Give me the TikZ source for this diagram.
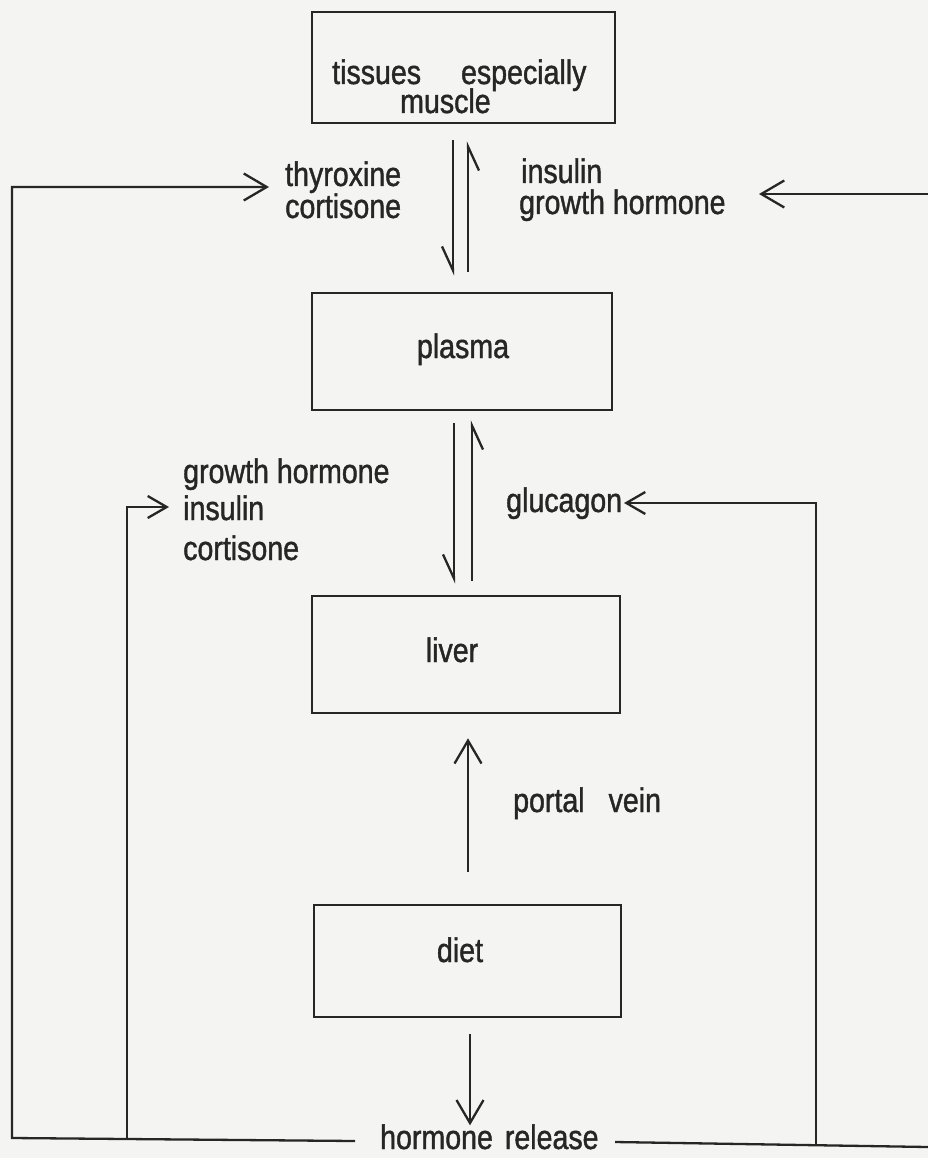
\documentclass[tikz,border=0pt]{standalone}
\usepackage{fontspec}
\setmainfont{Liberation Sans}[FakeStretch=0.84,FakeBold=1.2]
\usetikzlibrary{arrows.meta,calc}
\definecolor{paper}{RGB}{244,244,242}
\definecolor{inkc}{RGB}{38,38,38}
\begin{document}
\begin{tikzpicture}[x=1pt,y=-1pt,
  box/.style={draw=inkc, line width=2.6pt, inner sep=0pt},
  lbl/.style={font=\fontsize{34}{36}\selectfont, text=inkc, inner sep=0pt, anchor=base west},
  lblc/.style={lbl, anchor=base},
  wire/.style={draw=inkc, line width=2.3pt},
  harp/.style={wire, -{Straight Barb[harpoon,swap,length=24pt,width=22pt]}},
  openarr/.style={wire, -{Straight Barb[length=23pt,width=27pt]}},
  smallarr/.style={wire, -{Straight Barb[length=19pt,width=22pt]}}]
\useasboundingbox (0,0) rectangle (928,1158);
\fill[paper] (0,0) rectangle (928,1158);

% boxes
\node[box, minimum width=303pt, minimum height=111pt] (tissues) at (463.5,67.5) {};
\node[box, minimum width=300pt, minimum height=117pt] (plasma) at (462,351.5) {};
\node[box, minimum width=308pt, minimum height=117pt] (liver) at (466,654.5) {};
\node[box, minimum width=307pt, minimum height=112pt] (diet) at (467.5,961) {};

% box texts
\node[lbl] (tisA) at (332,84) {tissues\hspace{40pt}especially};
\node[lbl] (tisB) at (400,113) {muscle};
\node[lblc] (plasmaT) at (463,358) {plasma};
\node[lblc] (liverT) at (452,662) {liver};
\node[lblc] (dietT) at (460,962) {diet};

% labels
\node[lbl] (thy) at (285,186) {thyroxine};
\node[lbl] (cortA) at (285,218) {cortisone};
\node[lbl] (insA) at (521,183) {insulin};
\node[lbl] (ghA) at (519,214) {growth hormone};
\node[lbl] (ghB) at (183,483) {growth hormone};
\node[lbl] (insB) at (183,520) {insulin};
\node[lbl] (cortB) at (183,560) {cortisone};
\node[lbl] (glu) at (506,512) {glucagon};
\node[lbl] (portal) at (513,812) {portal\hspace{24pt}vein};
\node[lbl] (hr) at (380,1149) {hormone\hspace{12pt}release};

% coordinates of loop wires
\coordinate (hrL) at (355,1141);
\coordinate (BL) at (12,1138);
\coordinate (TL) at (12,187);
\coordinate (thyTip) at (269,187);
\coordinate (ILb) at (127,1139);
\coordinate (ILt) at (127,507);
\coordinate (insTip) at (169,507);
\coordinate (hrR) at (615,1142);
\coordinate (BR) at (928,1147);
\coordinate (RVb) at (816,1144);
\coordinate (RVt) at (816,503);
\coordinate (gluTip) at (624,503);
\coordinate (TR) at (928,194);
\coordinate (insTopTip) at (759,194);

% equilibrium harpoons
\draw[harp] ($(tissues.south)+(-10.5,16)$) -- ($(plasma.north)+(-9,-16)$);
\draw[harp] ($(plasma.north)+(6,-20)$) -- ($(tissues.south)+(4.5,17)$);
\draw[harp] ($(plasma.south)+(-8,12)$) -- ($(liver.north)+(-12,-11)$);
\draw[harp] ($(liver.north)+(6,-14)$) -- ($(plasma.south)+(10,9)$);

% portal vein and diet
\draw[openarr] ($(diet.north)+(0.5,-32)$) -- ($(liver.south)+(2,24)$);
\draw[openarr] ($(diet.south)+(2.5,16)$) -- ($(diet.south)+(2.5,107)$);

% hormone loops
\draw[openarr] (hrL) -- (BL) -- (TL) -- (thyTip);
\draw[smallarr] (ILb) -- (ILt) -- (insTip);
\draw[wire] (hrR) -- (BR);
\draw[smallarr] (RVb) -- (RVt) -- (gluTip);
\draw[openarr] (TR) -- (insTopTip);
\end{tikzpicture}
\end{document}
